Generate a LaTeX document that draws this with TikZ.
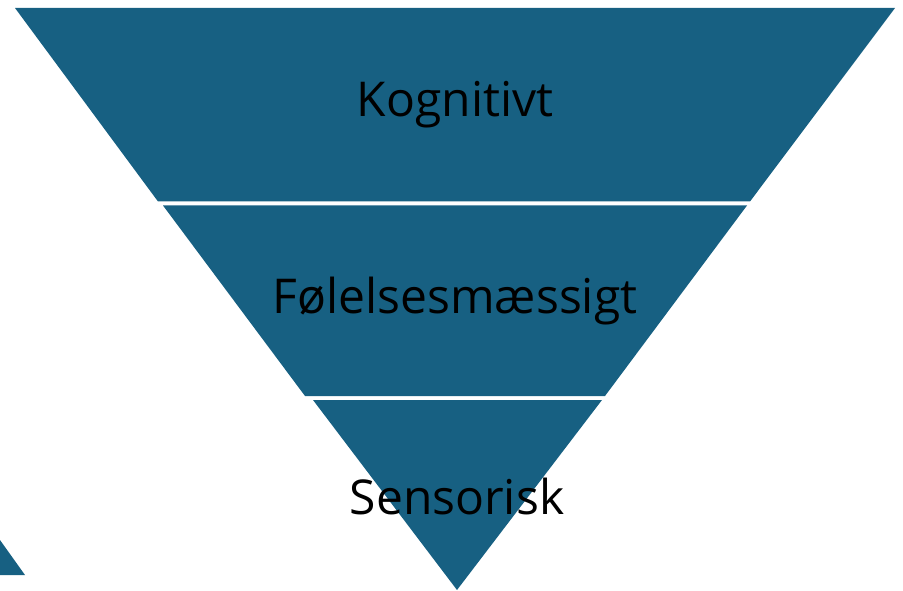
\documentclass[tikz,border=0pt]{standalone}
\usepackage{fontspec}
\setmainfont{Open Sans}
\definecolor{band}{RGB}{23,96,130}
\tikzset{
  layer/.style={fill=band, draw=none},
  label/.style={text=black, font=\fontsize{48}{56}\selectfont, inner sep=0pt, anchor=center}
}
\begin{document}
\begin{tikzpicture}[x=1pt, y=-1pt]
  \useasboundingbox (0,0) rectangle (903,591);
  % three stacked layers of the inverted pyramid
  \fill[layer] (15,8) -- (895,8) -- (750,201.5) -- (158,201.5) -- cycle;
  \fill[layer] (163,205.5) -- (747,205.5) -- (605,396) -- (305,396) -- cycle;
  \fill[layer] (313,400) -- (602,400) -- (457,590) -- cycle;
  % corner fragment at lower left
  \fill[layer] (0,540) -- (25,575) -- (0,575) -- cycle;
  % layer labels
  \node[label] (kog) at (455,105) {Kognitivt};
  \node[label] (fol) at (455,301) {Følelsesmæssigt};
  \node[label] (sen) at (457,496) {Sensorisk};
\end{tikzpicture}
\end{document}
